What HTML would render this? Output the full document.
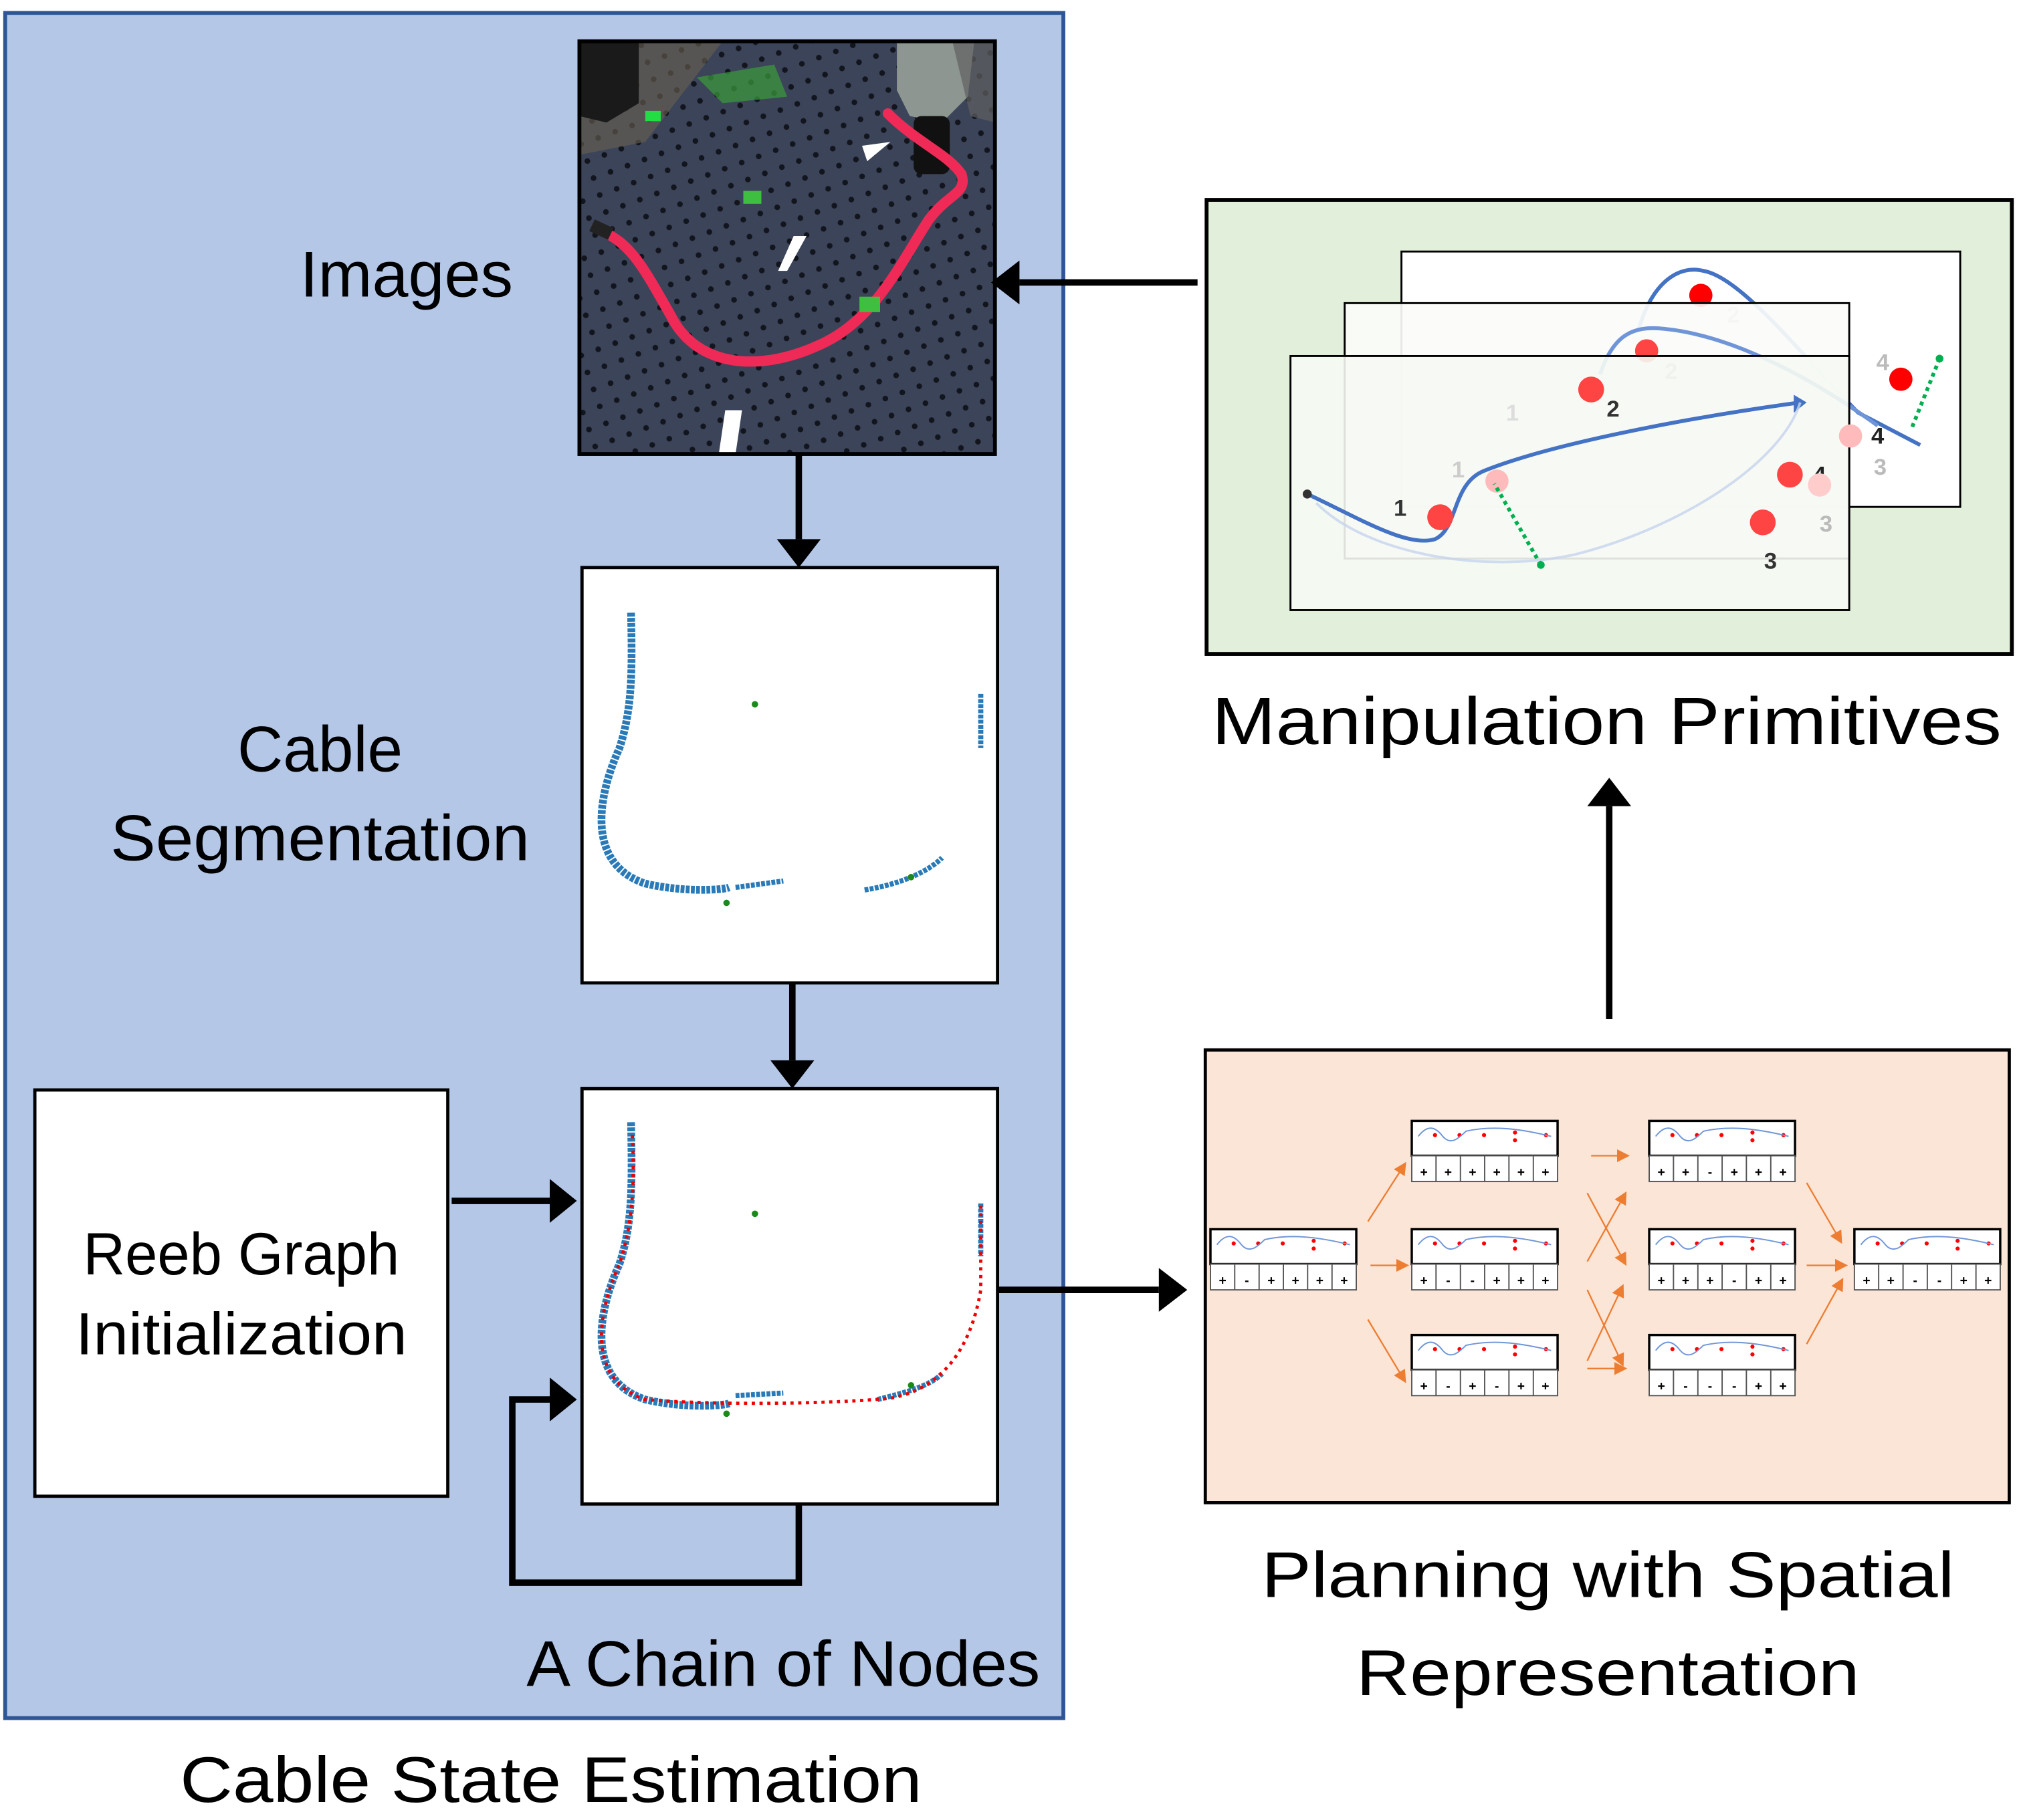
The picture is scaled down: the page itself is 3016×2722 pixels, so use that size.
<!DOCTYPE html>
<html><head><meta charset="utf-8"><style>
html,body{margin:0;padding:0;background:#fff;}
svg{display:block;}
text{font-family:"Liberation Sans","DejaVu Sans",sans-serif;}
</style></head><body>
<svg width="3016" height="2722" viewBox="0 0 1563 1411" preserveAspectRatio="none" xmlns="http://www.w3.org/2000/svg">
<defs>
<marker id="ah" markerWidth="10" markerHeight="10" refX="5" refY="5" orient="auto" markerUnits="userSpaceOnUse"><path d="M0,0 L10,5 L0,10 z" fill="#ed7d31"/></marker>
<pattern id="holes" width="14" height="14" patternUnits="userSpaceOnUse" patternTransform="rotate(-20)"><rect width="14" height="14" fill="#3b4459"/><circle cx="7" cy="7" r="2.2" fill="#12151d"/></pattern>
<g id="card">
<rect x="0" y="0" width="113" height="27" fill="#fff" stroke="#000" stroke-width="1.8"/>
<rect x="0" y="27" width="113" height="20" fill="#fff" stroke="#555" stroke-width="1"/>
<line x1="18.8" y1="27" x2="18.8" y2="47" stroke="#555"/><line x1="37.7" y1="27" x2="37.7" y2="47" stroke="#555"/>
<line x1="56.5" y1="27" x2="56.5" y2="47" stroke="#555"/><line x1="75.3" y1="27" x2="75.3" y2="47" stroke="#555"/>
<line x1="94.2" y1="27" x2="94.2" y2="47" stroke="#555"/>
<circle cx="18" cy="11" r="1.6" fill="#f00"/><circle cx="37" cy="11" r="1.6" fill="#f00"/><circle cx="56" cy="11" r="1.6" fill="#f00"/>
<circle cx="80" cy="9" r="1.6" fill="#f00"/><circle cx="80" cy="15" r="1.6" fill="#f00"/><circle cx="104" cy="11" r="1.6" fill="#f00"/>
<path d="M5,12 C12,3 18,4 24,12 C30,19 36,14 42,8 C60,4 80,5 108,12" fill="none" stroke="#6f95d8" stroke-width="1"/>
</g>
</defs>

<rect x="4" y="10" width="820" height="1322" fill="#b4c7e7" stroke="#2f5597" stroke-width="3"/>

<rect x="449" y="32" width="322" height="320" fill="url(#holes)"/>
<path d="M449,32 L560,32 L500,110 L449,120z" fill="#6b6150" opacity="0.6"/>
<path d="M449,32 L495,32 L495,80 L470,95 L449,90z" fill="#1a1a1a"/>
<path d="M695,32 L755,32 L750,75 L730,95 L705,90 L695,70z" fill="#8d9690"/>
<path d="M738,32 L771,32 L771,95 L752,90z" fill="#5f5f60" opacity="0.7"/>
<rect x="708" y="90" width="28" height="45" rx="6" fill="#111"/>
<path d="M468,180 C490,190 500,210 520,245 C540,285 590,290 640,265 C680,245 700,200 720,170 C735,150 750,150 745,135 C735,120 710,110 688,88" fill="none" stroke="#f02a57" stroke-width="8" stroke-linecap="round"/>
<rect x="458" y="173" width="16" height="10" fill="#222" transform="rotate(25 466 178)"/>
<path d="M668,113 L690,110 L672,125z" fill="#fff"/>
<path d="M615,183 L625,183 L610,210 L603,210z" fill="#fff"/>
<path d="M562,318 L575,318 L570,352 L557,352z" fill="#fff"/>
<rect x="576" y="148" width="14" height="10" fill="#3fbf3f"/>
<rect x="666" y="230" width="16" height="12" fill="#3fbf3f"/>
<rect x="500" y="86" width="12" height="8" fill="#22dd44"/>
<path d="M540,60 L600,50 L610,75 L560,80z" fill="#3a9b3a" opacity="0.7"/>
<rect x="449" y="32" width="322" height="320" fill="none" stroke="#000" stroke-width="3"/>
<text x="315" y="230" font-size="50" text-anchor="middle" textLength="165" lengthAdjust="spacingAndGlyphs" fill="#000">Images</text>

<line x1="619" y1="352" x2="619" y2="418" stroke="#000" stroke-width="5"/>
<path d="M602,418 L636,418 L619,440z" fill="#000"/>

<rect x="451" y="440" width="322" height="322" fill="#fff" stroke="#000" stroke-width="2.5"/>
<path d="M489,475 C490,520 490,550 480,580 C462,620 455,670 500,685 C530,692 560,690 565,688" fill="none" stroke="#2a7ab8" stroke-width="6" stroke-dasharray="3 1"/>
<path d="M570,688 L607,683" stroke="#2a7ab8" stroke-width="4" stroke-dasharray="3 1"/>
<path d="M670,690 C700,685 720,675 730,665" stroke="#2a7ab8" stroke-width="4" stroke-dasharray="3 1" fill="none"/>
<path d="M760,538 L760,580" stroke="#2a7ab8" stroke-width="4" stroke-dasharray="3 1"/>
<circle cx="585" cy="546" r="2.5" fill="#1a8a1a"/><circle cx="563" cy="700" r="2.5" fill="#1a8a1a"/><circle cx="706" cy="680" r="2.5" fill="#1a8a1a"/>
<text x="248" y="598" font-size="50" text-anchor="middle" textLength="128" lengthAdjust="spacingAndGlyphs">Cable</text>
<text x="248" y="667" font-size="50" text-anchor="middle" textLength="325" lengthAdjust="spacingAndGlyphs">Segmentation</text>

<line x1="614" y1="762" x2="614" y2="822" stroke="#000" stroke-width="5"/>
<path d="M597,822 L631,822 L614,844z" fill="#000"/>

<rect x="451" y="844" width="322" height="322" fill="#fff" stroke="#000" stroke-width="2.5"/>
<path d="M489,870 C490,920 490,950 480,980 C462,1020 455,1070 500,1085 C530,1092 560,1090 565,1088" fill="none" stroke="#2a7ab8" stroke-width="6" stroke-dasharray="3 1"/>
<path d="M570,1082 L607,1080" stroke="#2a7ab8" stroke-width="4" stroke-dasharray="3 1"/>
<path d="M680,1085 C700,1080 720,1075 730,1065" stroke="#2a7ab8" stroke-width="4" stroke-dasharray="3 1" fill="none"/>
<path d="M760,933 L760,974" stroke="#2a7ab8" stroke-width="4" stroke-dasharray="3 1"/>
<path d="M490,880 C492,920 490,950 480,980 C462,1020 455,1070 500,1085 C560,1090 650,1088 690,1084 C740,1075 755,1030 760,1000 L760,935" fill="none" stroke="#e00" stroke-width="2.5" stroke-dasharray="2.5 3.5"/>
<circle cx="585" cy="941" r="2.5" fill="#1a8a1a"/><circle cx="563" cy="1096" r="2.5" fill="#1a8a1a"/><circle cx="706" cy="1074" r="2.5" fill="#1a8a1a"/>

<rect x="27" y="845" width="320" height="315" fill="#fff" stroke="#000" stroke-width="2.5"/>
<text x="187" y="988" font-size="46" text-anchor="middle" textLength="245" lengthAdjust="spacingAndGlyphs">Reeb Graph</text>
<text x="187" y="1050" font-size="46" text-anchor="middle" textLength="257" lengthAdjust="spacingAndGlyphs">Initialization</text>
<line x1="350" y1="931" x2="426" y2="931" stroke="#000" stroke-width="5"/>
<path d="M426,914 L426,948 L447,931z" fill="#000"/>

<path d="M619,1166 L619,1227 L397,1227 L397,1085 L426,1085" fill="none" stroke="#000" stroke-width="5"/>
<path d="M426,1068 L426,1102 L447,1085z" fill="#000"/>

<text x="607" y="1307" font-size="50" text-anchor="middle" textLength="398" lengthAdjust="spacingAndGlyphs">A Chain of Nodes</text>
<text x="427" y="1397" font-size="50" text-anchor="middle" textLength="575" lengthAdjust="spacingAndGlyphs">Cable State Estimation</text>

<line x1="773" y1="1000" x2="898" y2="1000" stroke="#000" stroke-width="5"/>
<path d="M898,983 L898,1017 L920,1000z" fill="#000"/>

<rect x="934" y="814" width="623" height="351" fill="#fbe5d6" stroke="#000" stroke-width="2.5"/>
<g font-size="10" font-weight="bold" text-anchor="middle" fill="#000">
<use href="#card" x="938" y="953"/><g transform="translate(938,953)"><text x="9.4" y="43">+</text><text x="28.2" y="43">-</text><text x="47.1" y="43">+</text><text x="65.9" y="43">+</text><text x="84.7" y="43">+</text><text x="103.6" y="43">+</text></g>
<use href="#card" x="1094" y="869"/><g transform="translate(1094,869)"><text x="9.4" y="43">+</text><text x="28.2" y="43">+</text><text x="47.1" y="43">+</text><text x="65.9" y="43">+</text><text x="84.7" y="43">+</text><text x="103.6" y="43">+</text></g>
<use href="#card" x="1094" y="953"/><g transform="translate(1094,953)"><text x="9.4" y="43">+</text><text x="28.2" y="43">-</text><text x="47.1" y="43">-</text><text x="65.9" y="43">+</text><text x="84.7" y="43">+</text><text x="103.6" y="43">+</text></g>
<use href="#card" x="1094" y="1035"/><g transform="translate(1094,1035)"><text x="9.4" y="43">+</text><text x="28.2" y="43">-</text><text x="47.1" y="43">+</text><text x="65.9" y="43">-</text><text x="84.7" y="43">+</text><text x="103.6" y="43">+</text></g>
<use href="#card" x="1278" y="869"/><g transform="translate(1278,869)"><text x="9.4" y="43">+</text><text x="28.2" y="43">+</text><text x="47.1" y="43">-</text><text x="65.9" y="43">+</text><text x="84.7" y="43">+</text><text x="103.6" y="43">+</text></g>
<use href="#card" x="1278" y="953"/><g transform="translate(1278,953)"><text x="9.4" y="43">+</text><text x="28.2" y="43">+</text><text x="47.1" y="43">+</text><text x="65.9" y="43">-</text><text x="84.7" y="43">+</text><text x="103.6" y="43">+</text></g>
<use href="#card" x="1278" y="1035"/><g transform="translate(1278,1035)"><text x="9.4" y="43">+</text><text x="28.2" y="43">-</text><text x="47.1" y="43">-</text><text x="65.9" y="43">-</text><text x="84.7" y="43">+</text><text x="103.6" y="43">+</text></g>
<use href="#card" x="1437" y="953"/><g transform="translate(1437,953)"><text x="9.4" y="43">+</text><text x="28.2" y="43">+</text><text x="47.1" y="43">-</text><text x="65.9" y="43">-</text><text x="84.7" y="43">+</text><text x="103.6" y="43">+</text></g>
</g>
<g stroke="#ed7d31" stroke-width="1.2" fill="none" marker-end="url(#ah)">
<line x1="1060" y1="947" x2="1087" y2="905"/>
<line x1="1062" y1="981" x2="1087" y2="981"/>
<line x1="1060" y1="1023" x2="1087" y2="1068"/>
<line x1="1233" y1="896" x2="1258" y2="896"/>
<line x1="1230" y1="925" x2="1258" y2="977"/>
<line x1="1230" y1="978" x2="1258" y2="928"/>
<line x1="1230" y1="1000" x2="1256" y2="1055"/>
<line x1="1230" y1="1055" x2="1256" y2="1000"/>
<line x1="1230" y1="1061" x2="1256" y2="1061"/>
<line x1="1400" y1="917" x2="1425" y2="960"/>
<line x1="1400" y1="981" x2="1427" y2="981"/>
<line x1="1400" y1="1042" x2="1426" y2="995"/>
</g>
<text x="1246" y="1238" font-size="50" text-anchor="middle" textLength="537" lengthAdjust="spacingAndGlyphs">Planning with Spatial</text>
<text x="1246" y="1314" font-size="50" text-anchor="middle" textLength="390" lengthAdjust="spacingAndGlyphs">Representation</text>

<line x1="1247" y1="790" x2="1247" y2="625" stroke="#000" stroke-width="5"/>
<path d="M1230,625 L1264,625 L1247,603z" fill="#000"/>

<rect x="935" y="155" width="624" height="352" fill="#e2efda" stroke="#000" stroke-width="3"/>
<rect x="1086" y="195" width="433" height="198" fill="#fff" stroke="#000" stroke-width="1.5"/>
<path d="M1270,255 C1280,220 1300,205 1320,210 C1350,215 1400,280 1440,320 L1488,345" fill="none" stroke="#4472c4" stroke-width="3"/>
<circle cx="1318" cy="229" r="9" fill="#f00"/>
<text x="1338" y="250" font-size="18" font-weight="bold" fill="#bbb">2</text>
<rect x="1042" y="235" width="391" height="198" fill="#fbfcfa" fill-opacity="0.92" stroke="#000" stroke-width="1.5"/>
<path d="M1240,290 C1250,260 1265,252 1290,255 C1340,260 1400,290 1455,330" fill="none" stroke="#6f95d8" stroke-width="3"/>
<circle cx="1276" cy="272" r="9" fill="#f44"/>
<text x="1290" y="294" font-size="18" font-weight="bold" fill="#bbb">2</text>
<circle cx="1473" cy="294" r="9" fill="#f00"/>
<text x="1454" y="287" font-size="18" font-weight="bold" fill="#bbb">4</text>
<path d="M1503,278 L1481,333" stroke="#00b050" stroke-width="3" stroke-dasharray="3 3"/>
<circle cx="1503" cy="278" r="3" fill="#00b050"/>
<rect x="1000" y="276" width="433" height="197" fill="#f6f9f3" fill-opacity="0.9" stroke="#000" stroke-width="1.5"/>
<path d="M1013,383 C1050,400 1090,425 1112,418 C1130,410 1125,375 1150,365 C1200,345 1300,325 1395,312" fill="none" stroke="#4472c4" stroke-width="3"/>
<path d="M1390,306 L1400,312 L1390,320z" fill="#4472c4"/>
<path d="M1020,390 C1060,430 1150,445 1220,430 C1300,410 1380,360 1395,312" fill="none" stroke="#c5d3ee" stroke-width="2" opacity="0.8"/>
<circle cx="1013" cy="383" r="3.5" fill="#333"/>
<circle cx="1116" cy="401" r="10" fill="#f44"/>
<text x="1080" y="400" font-size="18" font-weight="bold" fill="#333">1</text>
<circle cx="1233" cy="302" r="10" fill="#f44"/>
<text x="1245" y="323" font-size="18" font-weight="bold" fill="#333">2</text>
<circle cx="1366" cy="405" r="10" fill="#f44"/>
<text x="1367" y="441" font-size="18" font-weight="bold" fill="#333">3</text>
<circle cx="1387" cy="368" r="10" fill="#f44"/>
<text x="1405" y="374" font-size="18" font-weight="bold" fill="#222">4</text>
<circle cx="1160" cy="373" r="9" fill="#fbb"/>
<circle cx="1410" cy="376" r="9" fill="#fcc"/>
<circle cx="1434" cy="338" r="9" fill="#fbb"/>
<text x="1450" y="344" font-size="18" font-weight="bold" fill="#222">4</text>
<text x="1452" y="368" font-size="18" font-weight="bold" fill="#bbb">3</text>
<text x="1410" y="412" font-size="18" font-weight="bold" fill="#bbb">3</text>
<text x="1125" y="370" font-size="18" font-weight="bold" fill="#ccc">1</text>
<text x="1167" y="326" font-size="18" font-weight="bold" fill="#ddd">1</text>
<path d="M1194,438 L1158,375" stroke="#00b050" stroke-width="3" stroke-dasharray="3 3"/>
<circle cx="1194" cy="438" r="3" fill="#00b050"/>
<text x="1245" y="577" font-size="52" text-anchor="middle" textLength="612" lengthAdjust="spacingAndGlyphs">Manipulation Primitives</text>

<line x1="928" y1="219" x2="790" y2="219" stroke="#000" stroke-width="5"/>
<path d="M790,202 L790,236 L768,219z" fill="#000"/>
</svg>
</body></html>
